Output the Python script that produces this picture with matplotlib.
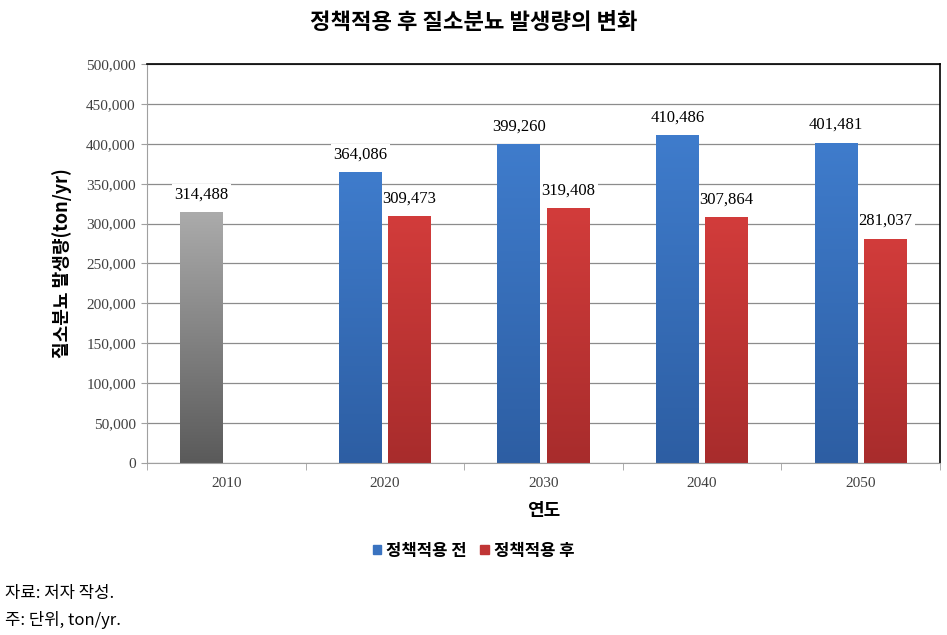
import matplotlib.pyplot as plt
import numpy as np
from matplotlib.colors import LinearSegmentedColormap

plt.rcParams['font.family'] = ['Noto Sans CJK KR', 'DejaVu Sans']

# 데이터
years = ['2010', '2020', '2030', '2040', '2050']
before = [314488, 364086, 399260, 410486, 401481]   # 2010은 기준년도(회색)
after = [None, 309473, 319408, 307864, 281037]

num_font = 'Liberation Serif'
width = 0.27
offset = 0.155

fig = plt.figure(figsize=(9.47, 6.35), dpi=100)
ax = fig.add_axes([0.1552, 0.2709, 0.8374, 0.6283])

cm_gray = LinearSegmentedColormap.from_list('g', ['#5a5a5a', '#ababab'])
cm_blue = LinearSegmentedColormap.from_list('b', ['#2d5ea3', '#3f7ccc'])
cm_red = LinearSegmentedColormap.from_list('r', ['#a82c2c', '#d23c3b'])
grad = np.linspace(0, 1, 256).reshape(-1, 1)


def grad_bar(x, h, cmap):
    # 막대를 그리고 그라데이션으로 채움
    b = ax.bar(x, h, width, color='none', edgecolor='none', zorder=2)[0]
    im = ax.imshow(grad, cmap=cmap, origin='lower', aspect='auto',
                   extent=[x - width / 2, x + width / 2, 0, h], zorder=2)
    im.set_clip_path(b)
    # 라벨 배경은 격자선만 가리고 막대 뒤로
    ax.annotate(f'{h:,}', (x, h), xytext=(0, 7), textcoords='offset points',
                ha='center', va='bottom', fontsize=12, family=num_font,
                bbox=dict(boxstyle='square,pad=0.15', fc='white', ec='none'),
                zorder=1.5)


x = np.arange(len(years))
for i in range(len(years)):
    if after[i] is None:
        grad_bar(x[i] - offset, before[i], cm_gray)
    else:
        grad_bar(x[i] - offset, before[i], cm_blue)
        grad_bar(x[i] + offset, after[i], cm_red)

ax.set_xlim(-0.5, 4.5)
ax.set_ylim(0, 500000)
ax.set_yticks(np.arange(0, 500001, 50000))
ax.set_yticklabels([f'{v:,}' for v in range(0, 500001, 50000)],
                   family=num_font, fontsize=11, color='#404040')
ax.set_xticks(x)
ax.set_xticklabels(years, family=num_font, fontsize=11, color='#404040')
ax.set_xticks(np.arange(-0.5, 4.6, 1), minor=True)
ax.tick_params(axis='x', which='major', length=0, pad=10)
ax.tick_params(axis='x', which='minor', length=5, color='#a0a0a0')
ax.tick_params(axis='y', length=4, color='#a0a0a0', pad=4)

ax.grid(axis='y', color='#8c8c8c', linewidth=0.9, zorder=0)
ax.set_axisbelow(True)
for s in ['left', 'bottom']:
    ax.spines[s].set_color('#a0a0a0')
for s in ['top', 'right']:
    ax.spines[s].set_color('black')
    ax.spines[s].set_linewidth(1.2)

ax.set_xlabel('연도', fontsize=13, fontweight='bold', labelpad=8)
ax.set_ylabel('질소분뇨 발생량(ton/yr)', fontsize=13, fontweight='bold', labelpad=10)
fig.text(0.5, 0.965, '정책적용 후 질소분뇨 발생량의 변화', ha='center', va='center',
         fontsize=16, fontweight='bold')

# 범례
h1 = plt.Rectangle((0, 0), 1, 1, color='#3a73c0')
h2 = plt.Rectangle((0, 0), 1, 1, color='#c03535')
fig.legend([h1, h2], ['정책적용 전', '정책적용 후'], loc='center',
           bbox_to_anchor=(0.5, 0.133), ncol=2, frameon=False,
           handlelength=0.5, handleheight=0.5, handletextpad=0.3,
           columnspacing=0.8, prop={'size': 12, 'weight': 'bold'})

fig.text(0.005, 0.066, '자료: 저자 작성.', fontsize=12, va='center')
fig.text(0.005, 0.023, '주: 단위, ton/yr.', fontsize=12, va='center')

plt.savefig('out.png', dpi=100)
